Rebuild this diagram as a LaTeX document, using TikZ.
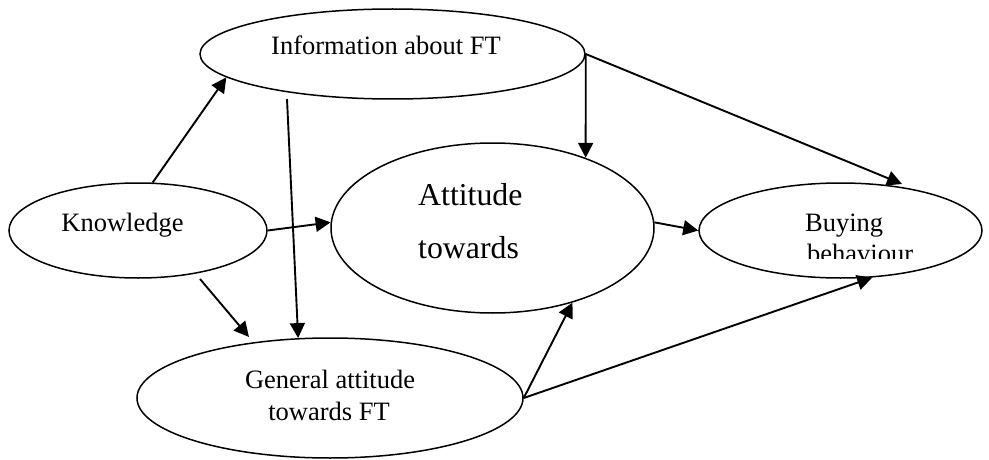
\documentclass[tikz,border=0pt]{standalone}
\usepackage{fontspec}
\setmainfont{Liberation Serif}
\usetikzlibrary{arrows.meta,shapes.geometric}
\begin{document}
\begin{tikzpicture}[x=1pt,y=-1pt,
  oval/.style={draw,ellipse,line width=1.5pt,inner sep=0pt},
  link/.style={line width=1.9pt,-{Triangle[length=15pt,width=15pt]}},
  lbl/.style={inner sep=0pt,font=\fontsize{26.5}{32}\selectfont},
  big/.style={inner sep=0pt,font=\fontsize{31.8}{40}\selectfont}]
\fill[white] (0,0) rectangle (989,460);
\useasboundingbox (0,0) rectangle (989,460);
% ellipses
\node[oval,minimum width=385pt,minimum height=90pt] (info) at (392.5,54) {};
\node[oval,minimum width=258pt,minimum height=95pt] (know) at (138,230.5) {};
\node[oval,minimum width=323pt,minimum height=170pt] (att) at (492.5,228) {};
\node[oval,minimum width=283pt,minimum height=95pt] (buy) at (840.5,230.5) {};
\node[oval,minimum width=386pt,minimum height=120pt] (gen) at (330,398) {};
% texts
\node[lbl,anchor=base] (infot) at (386,55) {Information about FT};
\node[lbl,anchor=base] (knowt) at (122.5,231) {Knowledge};
\node[big,anchor=base west] (att1) at (418,205) {Attitude};
\node[big,anchor=base west] (att2) at (418,258) {towards};
\node[lbl,anchor=base west] (buy1) at (805,231) {Buying};
\begin{scope}
\clip (690,0) rectangle (989,258.5);
\node[lbl,anchor=base west] (buy2) at (807,262) {behaviour};
\end{scope}
\node[lbl,anchor=base] (gen1) at (330,388) {General attitude};
\node[lbl,anchor=base] (gen2) at (329,420) {towards FT};
% free ends
\coordinate (k4) at (200,279);
\coordinate (iline) at (287,99);
\coordinate (buytop) at (902,184);
\coordinate (gentip) at (249,337);
% connectors
\draw[link] (know.73) -- (info.188.8);
\draw[link] (iline) -- (gen.118.4);
\draw[link] (know.east) -- (att.178);
\draw[link] (k4) -- (gentip);
\draw[link] (info.east) -- (att.37);
\draw[link] (info.east) -- (buytop);
\draw[link] (att.2) -- (buy.west);
\draw[link] (gen.east) -- (att.-43.4);
\draw[link] (gen.east) -- (buy.-56.7);
\end{tikzpicture}
\end{document}
